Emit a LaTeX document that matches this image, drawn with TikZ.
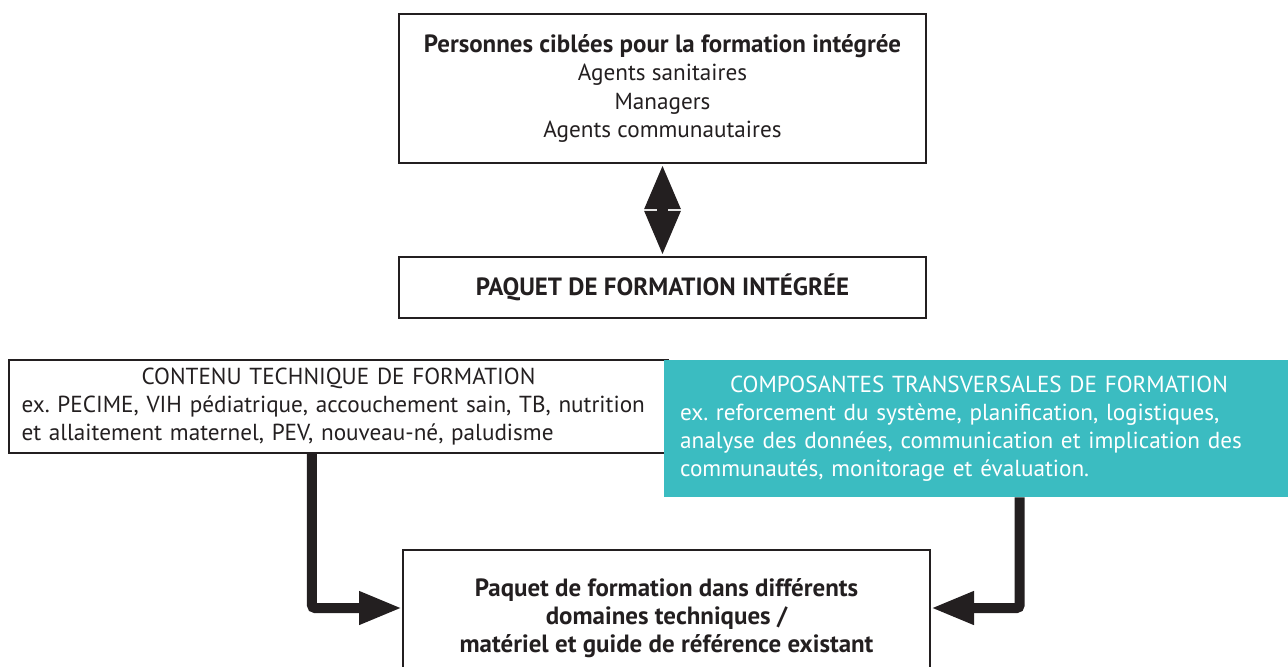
\documentclass[tikz,border=0pt]{standalone}
\usepackage{fontspec}
\setmainfont{PT Sans}
\frenchspacing
\usetikzlibrary{arrows.meta}
\definecolor{boxink}{HTML}{231F20}
\definecolor{transteal}{HTML}{3BBCC1}
\tikzset{%
  >={Triangle[width=6.2mm,length=8.6mm]},
  % Specifications for style of nodes:
          base/.style = {rectangle, draw=boxink, line width=1.2pt, text=boxink,
                         minimum width=10.54cm, text centered,
                         font=\fontsize{13.2}{16}\selectfont},
        target/.style = {base, minimum height=2.98cm, align=center},
       package/.style = {base, minimum height=1.22cm,
                         font=\fontsize{14.2}{16}\selectfont\bfseries},
     technical/.style = {base, minimum width=13.18cm, minimum height=1.86cm,
                         inner xsep=2.5mm, text width=12.68cm, align=left},
    transverse/.style = {rectangle, fill=transteal, text=white, minimum height=2.74cm,
                         inner xsep=3.2mm, text width=11.96cm, align=left,
                         font=\fontsize{13.2}{16}\selectfont},
      resource/.style = {base, minimum height=2.72cm, align=center,
                         font=\fontsize{14.2}{16}\selectfont\bfseries},
  % Specifications for style of connectors:
          flow/.style = {->, line width=2mm, draw=boxink, rounded corners=0.6mm},
        twoway/.style = {<->, line width=2.2mm, draw=boxink,
                         >={Triangle[width=6.6mm,length=9mm]}}
}

\begin{document}
\begin{tikzpicture}[x=0.02cm, y=-0.02cm]
  \clip (0,0) rectangle (1288,666);
  % Specification of nodes (position, etc.)
  \node (target)  [target] at (662.5,88.5)
    {{\fontsize{14.2}{16}\selectfont\bfseries Personnes ciblées pour la formation intégrée}\\
     Agents sanitaires\\ Managers\\ Agents communautaires};
  \node (package) [package] at (662.5,287.5) {PAQUET DE FORMATION INTÉGRÉE};

  \node (technical)  [technical] at (338.5,406.5)
    {\makebox[12.68cm]{CONTENU TECHNIQUE DE FORMATION}\\
     ex. PECIME, VIH pédiatrique, accouchement sain, TB, nutrition\\
     et allaitement maternel, PEV, nouveau-né, paludisme};
  \node (transverse) [transverse] at (979,428.5)
    {\makebox[11.96cm]{COMPOSANTES TRANSVERSALES DE FORMATION}\\
     ex. reforcement du système, planification, logistiques,\\
     analyse des données, communication et implication des\\
     communautés, monitorage et évaluation.};

  \node (resource) [resource] at (666.5,618)
    {Paquet de formation dans différents\\ domaines techniques /\\
     matériel et guide de référence existant};

  \draw[twoway] (target) -- (package);
  \draw[flow] ([xshift=6.08cm]technical.south west) |- ([yshift=2mm]resource.west);
  \draw[flow] ([xshift=7.12cm]transverse.south west) |- ([yshift=2mm]resource.east);
\end{tikzpicture}
\end{document}
